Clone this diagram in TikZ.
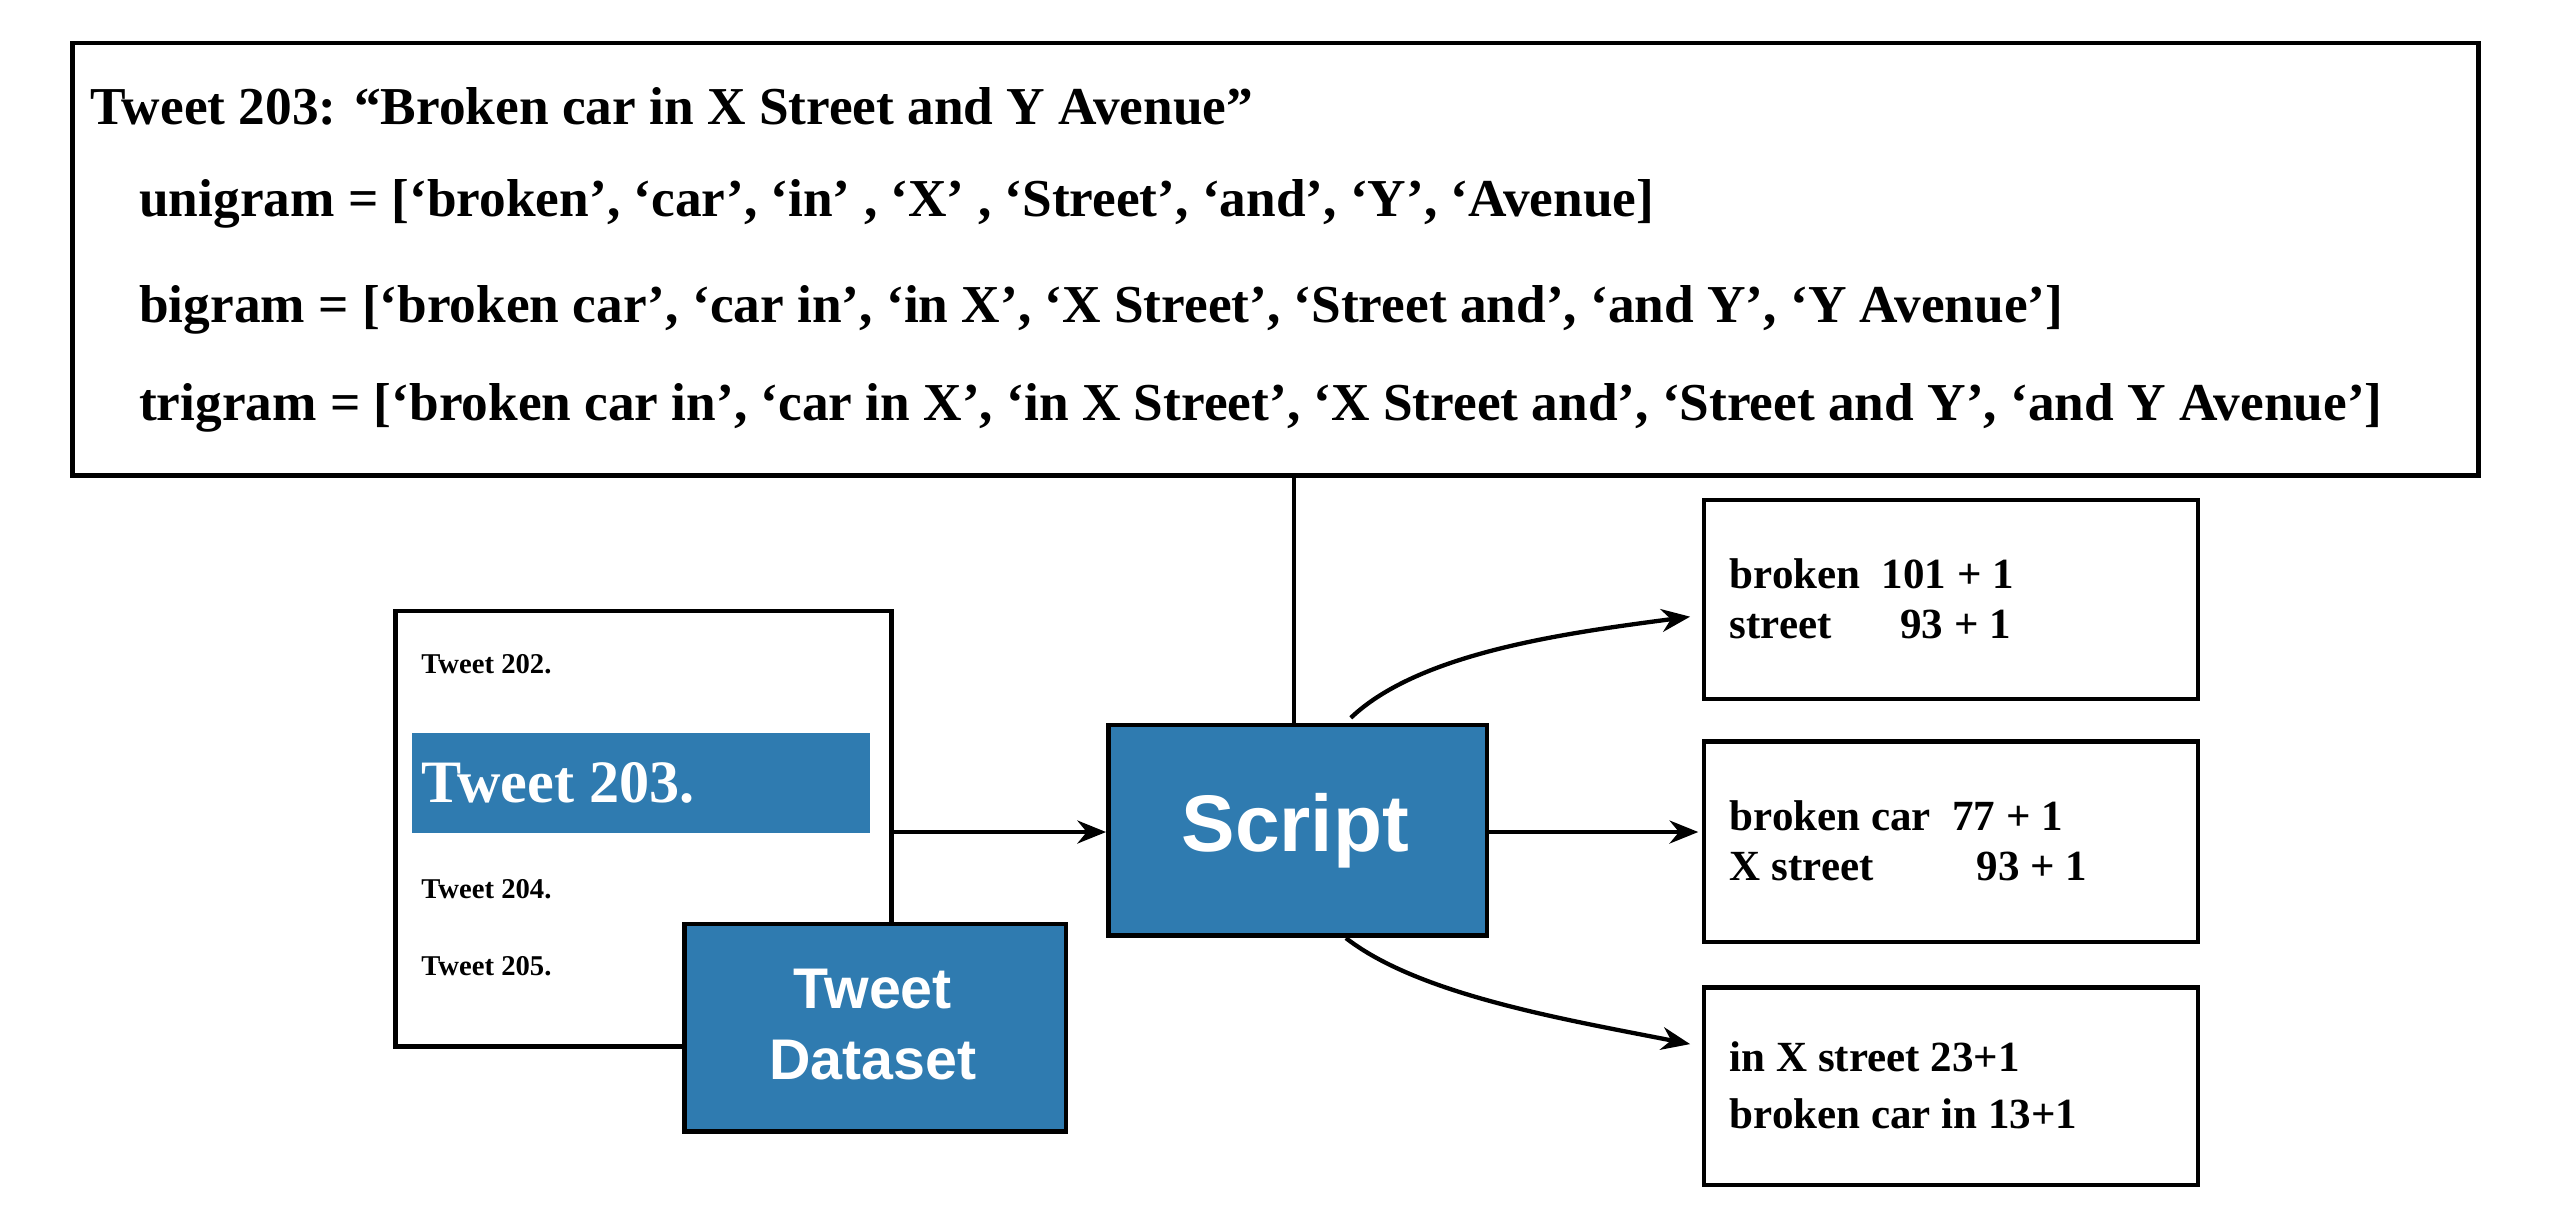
\documentclass[tikz,border=0pt]{standalone}
\usepackage{fontspec}
\setmainfont{Liberation Serif}
\newfontfamily\sans{Liberation Sans}
\usetikzlibrary{arrows.meta}
\definecolor{blu}{HTML}{2F7BB0}
\begin{document}
\begin{tikzpicture}[x=0.02cm,y=-0.02cm,
 box/.style={draw,line width=1.6pt},
 bluebox/.style={draw,line width=1.6pt,fill=blu},
 arr/.style={line width=1.5pt,-{Stealth[length=10pt,width=8pt]}},
 tl/.style={anchor=west,inner sep=0,font=\bfseries\fontsize{18.6}{21}\selectfont},
 ol/.style={anchor=west,inner sep=0,align=left,font=\bfseries\fontsize{15}{18}\selectfont},
 tw/.style={anchor=west,inner sep=0,font=\bfseries\fontsize{10}{12}\selectfont}]
\useasboundingbox (0,0) rectangle (1568,745);
\node[box,minimum width=1475*0.02cm,minimum height=265*0.02cm,anchor=north west,inner sep=0] (top) at (43,25) {};
\node[tl] (l1) at (55,65) {Tweet 203: ``Broken car in X Street and Y Avenue''};
\node[tl] (l2) at (85,125) {unigram = [`broken', `car', `in' , `X' , `Street', `and', `Y', `Avenue]};
\node[tl] (l3) at (85,190) {bigram = [`broken car', `car in', `in X', `X Street', `Street and', `and Y', `Y Avenue']};
\node[tl] (l4) at (85,250) {trigram = [`broken car in', `car in X', `in X Street', `X Street and', `Street and Y', `and Y Avenue']};
\node[box,minimum width=304*0.02cm,minimum height=267*0.02cm,anchor=north west,inner sep=0] (ds) at (241,373) {};
\node[tw] (t202) at (258,407) {Tweet 202.};
\node[fill=blu,minimum width=281*0.02cm,minimum height=61*0.02cm,anchor=north west,inner sep=0] (hl) at (252,449) {};
\node[anchor=west,inner sep=0,text=white,font=\bfseries\fontsize{21}{24}\selectfont] (t203) at (258,480) {Tweet 203.};
\node[tw] (t204) at (258,545) {Tweet 204.};
\node[tw] (t205) at (258,592) {Tweet 205.};
\node[bluebox,minimum width=234*0.02cm,minimum height=127*0.02cm,anchor=north west,inner sep=0] (tdb) at (418,565) {};
\node[text=white,align=center,font=\sans\bfseries\fontsize{20}{25}\selectfont] (tdt) at (535,628) {Tweet\\Dataset};
\node[bluebox,minimum width=232*0.02cm,minimum height=129*0.02cm,anchor=north west,inner sep=0] (sc) at (678,443) {};
\node[text=white,font=\sans\bfseries\fontsize{28}{32}\selectfont] (sct) at (794,509) {Script};
\node[box,minimum width=303*0.02cm,minimum height=122*0.02cm,anchor=north west,inner sep=0] (o1) at (1043,305) {};
\node[box,minimum width=303*0.02cm,minimum height=123*0.02cm,anchor=north west,inner sep=0] (o2) at (1043,453) {};
\node[box,minimum width=303*0.02cm,minimum height=121*0.02cm,anchor=north west,inner sep=0] (o3) at (1043,604) {};
\node[ol] (o1t) at (1060,352) {broken\hspace{0.5em}101 + 1};
\node[ol] (o1u) at (1060,383) {street\hspace{1.6em}93 + 1};
\node[ol] (o2t) at (1060,500) {broken car\hspace{0.5em}77 + 1};
\node[ol] (o2u) at (1060,531) {X street\hspace{2.4em}93 + 1};
\node[ol] (o3t) at (1060,648) {in X street 23+1};
\node[ol] (o3u) at (1060,683) {broken car in 13+1};
\coordinate (vt) at (793,290);
\coordinate (vb) at (793,443);
\coordinate (a1) at (547,510);
\coordinate (a2) at (912,510);
\coordinate (a3) at (1041,510);
\draw[line width=1.5pt] (vt) -- (vb);
\draw[arr] (a1) -- (sc.west |- a1);
\draw[arr] (a2) -- (a3);
\draw[arr] (828,440) .. controls (870,400) and (960,388) .. (1036,378);
\draw[arr] (825,575) .. controls (870,610) and (960,625) .. (1036,640);
\end{tikzpicture}
\end{document}
